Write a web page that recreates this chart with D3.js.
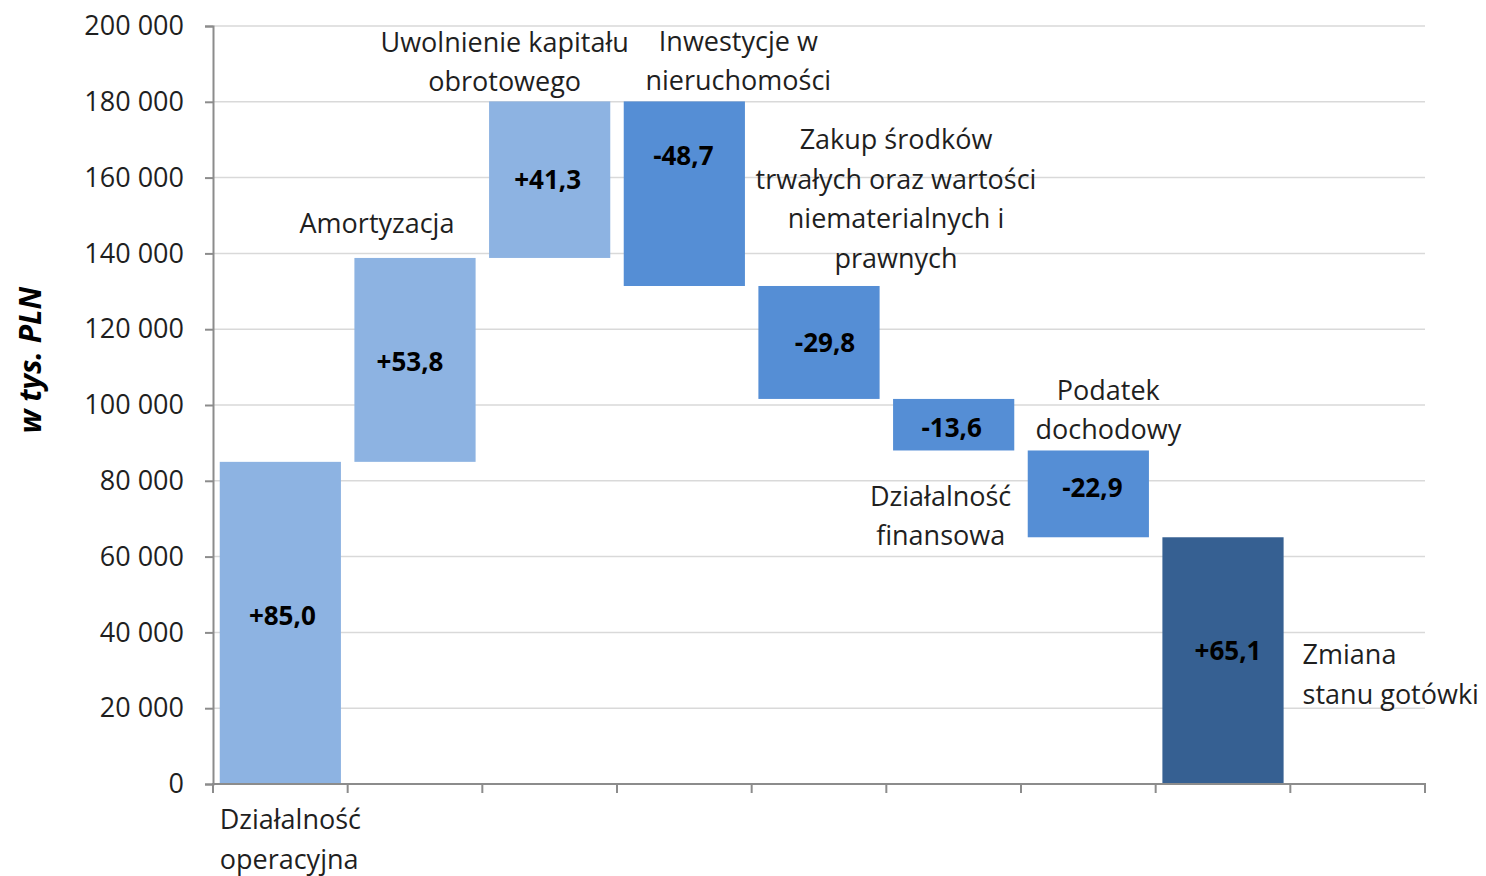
<!DOCTYPE html>
<html lang="pl">
<head>
    <meta charset="UTF-8">
    <title>Przepływy pieniężne</title>
    <script src="https://d3js.org/d3.v7.min.js"></script>
    <style>
        html, body { margin: 0; padding: 0; background: #fff; }
        text { font-family: "Open Sans", "Noto Sans", sans-serif; fill: #1f1f1f; }
    </style>
</head>
<body>
    <div id="chart"></div>
    <script>
        // data (w tys. PLN)
        const categoryLines = [
            ['Działalność', 'operacyjna'],
            ['Amortyzacja'],
            ['Uwolnienie kapitału', 'obrotowego'],
            ['Inwestycje w', 'nieruchomości'],
            ['Zakup środków', 'trwałych oraz wartości', 'niematerialnych i', 'prawnych'],
            ['Działalność', 'finansowa'],
            ['Podatek', 'dochodowy'],
            ['Zmiana', 'stanu gotówki']
        ];
        const changes = [85000, 53800, 41300, -48700, -29800, -13600, -22900];
        const yTicks = [0, 20000, 40000, 60000, 80000, 100000, 120000, 140000, 160000, 180000, 200000];
        const yTitle = 'w tys. PLN';

        // colours
        const colUp = '#8db3e2', colDown = '#558ed5', colTotal = '#366092';

        // build waterfall steps
        let running = 0;
        const steps = changes.map((v, i) => {
            const start = running;
            running += v;
            return { i: i, start: start, end: running, value: v, type: v >= 0 ? 'up' : 'down' };
        });
        steps.push({ i: changes.length, start: 0, end: running, value: running, type: 'total' });

        // label layout: where each category label sits relative to its bar
        // ref: 'top' of bar, 'bottom' of bar, 'axis', 'mid'
        const catLayout = [
            { ref: 'axis', anchor: 'start', dx: 0, dy: 36 },
            { ref: 'top', anchor: 'middle', dx: -38, dy: -34 },
            { ref: 'top', anchor: 'middle', dx: -45, dy: -59 },
            { ref: 'top', anchor: 'middle', dx: 54, dy: -60 },
            { ref: 'top', anchor: 'middle', dx: 77, dy: -146 },
            { ref: 'bottom', anchor: 'middle', dx: -13, dy: 46 },
            { ref: 'top', anchor: 'middle', dx: 20, dy: -60 },
            { ref: 'mid', anchor: 'start', dx: 0, dy: -6 }
        ];
        const valLayout = [
            { dx: 2, dy: -7 }, { dx: -5, dy: 2 }, { dx: -2, dy: 0 }, { dx: -1, dy: -38 },
            { dx: 6, dy: 0 }, { dx: -2, dy: 3 }, { dx: 4, dy: -6 }, { dx: 5, dy: -10 }
        ];

        const width = 1486, height = 876;
        const margin = { top: 26, right: 61, bottom: 92, left: 213 };
        const lineH = 39.5;

        const svg = d3.select('#chart')
            .append('svg')
            .attr('width', width)
            .attr('height', height);

        const x = d3.scaleBand()
            .domain(d3.range(9))
            .range([margin.left, width - margin.right])
            .paddingInner(0.1)
            .paddingOuter(0.05);

        const y = d3.scaleLinear()
            .domain([0, 200000])
            .range([height - margin.bottom, margin.top]);

        const plFormat = d3.formatLocale({ decimal: ',', thousands: ' ', grouping: [3], currency: ['', ''] }).format(',d');

        // gridlines
        svg.append('g')
            .selectAll('line')
            .data(yTicks.filter(d => d > 0))
            .enter()
            .append('line')
            .attr('x1', margin.left)
            .attr('x2', width - margin.right)
            .attr('y1', d => y(d))
            .attr('y2', d => y(d))
            .attr('stroke', '#d9d9d9')
            .attr('stroke-width', 1.5);

        // bars
        svg.append('g')
            .selectAll('rect')
            .data(steps)
            .enter()
            .append('rect')
            .attr('x', d => x(d.i))
            .attr('width', x.bandwidth())
            .attr('y', d => y(Math.max(d.start, d.end)))
            .attr('height', d => Math.abs(y(d.start) - y(d.end)))
            .attr('fill', d => d.type === 'up' ? colUp : d.type === 'down' ? colDown : colTotal);

        // y axis
        const yAxis = svg.append('g')
            .attr('transform', `translate(${margin.left},0)`)
            .call(d3.axisLeft(y).tickValues(yTicks).tickFormat(plFormat).tickSize(8).tickPadding(21));
        yAxis.select('.domain').attr('stroke', '#8c8c8c').attr('stroke-width', 2);
        yAxis.selectAll('.tick line').attr('stroke', '#8c8c8c').attr('stroke-width', 2);
        yAxis.selectAll('.tick text')
            .attr('font-size', '27px')
            .attr('font-family', '"Open Sans", sans-serif')
            .attr('fill', '#1f1f1f');

        // x axis (ticks at band boundaries)
        const bounds = d3.range(10).map(k => margin.left + k * (width - margin.right - margin.left) / 9);
        svg.append('line')
            .attr('x1', margin.left - 1)
            .attr('x2', width - margin.right + 1)
            .attr('y1', y(0))
            .attr('y2', y(0))
            .attr('stroke', '#8c8c8c')
            .attr('stroke-width', 2);
        svg.append('g')
            .selectAll('line')
            .data(bounds)
            .enter()
            .append('line')
            .attr('x1', d => d)
            .attr('x2', d => d)
            .attr('y1', y(0))
            .attr('y2', y(0) + 9)
            .attr('stroke', '#8c8c8c')
            .attr('stroke-width', 2);

        // y title
        svg.append('text')
            .attr('transform', 'translate(30, 360) rotate(-90)')
            .attr('text-anchor', 'middle')
            .attr('dy', '0.35em')
            .attr('font-size', '30px')
            .attr('font-weight', 'bold')
            .attr('font-style', 'italic')
            .style('fill', '#000')
            .text(yTitle);

        // category labels
        steps.forEach((d, i) => {
            const lay = catLayout[i];
            let ax, ay;
            const top = y(Math.max(d.start, d.end));
            const bottom = y(Math.min(d.start, d.end));
            if (lay.anchor === 'start') {
                ax = lay.ref === 'mid' ? x(d.i) + x.bandwidth() + 19 : x(d.i);
            } else {
                ax = x(d.i) + x.bandwidth() / 2;
            }
            ax += lay.dx;
            if (lay.ref === 'axis') ay = y(0);
            else if (lay.ref === 'top') ay = top;
            else if (lay.ref === 'bottom') ay = bottom;
            else ay = (top + bottom) / 2;
            ay += lay.dy;

            const t = svg.append('text')
                .attr('text-anchor', lay.anchor)
                .attr('font-size', '27px');
            categoryLines[i].forEach((line, k) => {
                t.append('tspan')
                    .attr('x', ax)
                    .attr('y', ay + k * lineH)
                    .attr('dy', '0.35em')
                    .text(line);
            });
        });

        // value labels
        svg.append('g')
            .selectAll('text')
            .data(steps)
            .enter()
            .append('text')
            .attr('x', (d, i) => x(d.i) + x.bandwidth() / 2 + valLayout[i].dx)
            .attr('y', (d, i) => (y(d.start) + y(d.end)) / 2 + valLayout[i].dy)
            .attr('dy', '0.35em')
            .attr('text-anchor', 'middle')
            .attr('font-size', '26px')
            .attr('font-weight', 'bold')
            .style('fill', '#000')
            .text(d => (d.value >= 0 ? '+' : '-') + (Math.abs(d.value) / 1000).toFixed(1).replace('.', ','));
    </script>
</body>
</html>
